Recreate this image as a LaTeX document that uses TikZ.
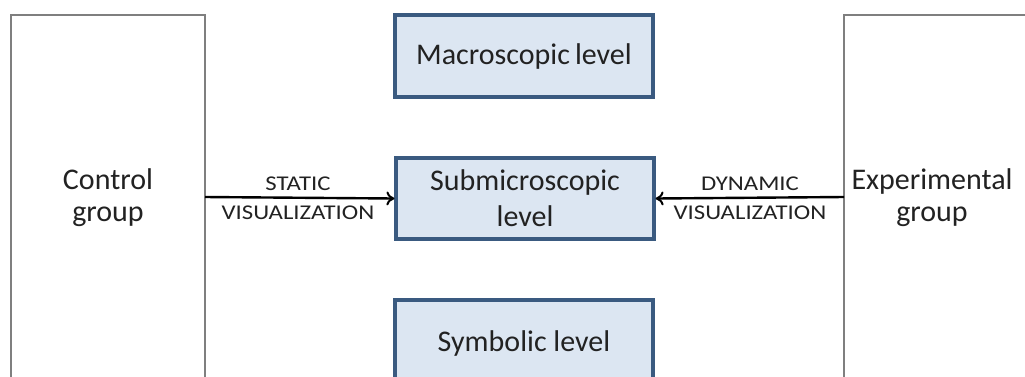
\documentclass[tikz,border=0pt]{standalone}
\usepackage{fontspec}
\setmainfont{Carlito}
\usetikzlibrary{arrows.meta}
\definecolor{boxfill}{HTML}{DCE6F2}
\definecolor{boxline}{HTML}{3A5A80}
\definecolor{grpline}{HTML}{7F7F7F}
\definecolor{txt}{HTML}{222222}
\begin{document}
\begin{tikzpicture}[x=1pt,y=-1pt,
  levelbox/.style={draw=boxline,line width=3.2pt,fill=boxfill,minimum width=258pt,inner sep=0pt,
    font=\fontsize{30}{36}\selectfont,text=txt,align=center},
  grpbox/.style={draw=grpline,line width=1.4pt},
  grptext/.style={font=\fontsize{30}{32}\selectfont,text=txt,align=center},
  lbl/.style={font=\fontsize{21}{29}\selectfont,text=txt,align=center,xscale=1.18},
  conn/.style={line width=2.4pt,-{To[length=8pt,width=14pt,line width=2pt]}}]
\useasboundingbox (0,0) rectangle (1025,376);
\clip (0,0) rectangle (1025,376);
\fill[white] (0,0) rectangle (1025,376);
% group rectangles
\draw[grpbox] (11,400) -- (11,15) -- (205,15) -- (205,400);
\draw[grpbox] (1040,15) -- (844,15) -- (844,400);
\coordinate (cg) at (205,197);
\coordinate (eg) at (844,197);
\node[grptext] (ctl) at (108,198) {Control\\group};
\node[grptext] (exp) at (932,198) {Experimental\\group};
% level boxes
\node[levelbox,minimum height=82pt] (mac) at (524,56) {Macroscopic\,level};
\node[levelbox,minimum height=81pt] (sub) at (525,198.5) {Submicroscopic\\level};
\node[levelbox,minimum height=100pt] (sym) at (524,350) {};
\node[font=\fontsize{30}{36}\selectfont,text=txt] (symt) at (524,343) {Symbolic level};
% connectors
\draw[conn] (cg) -- (sub.west);
\draw[conn] (eg) -- (sub.east);
\node[lbl] (l1) at (298,198) {STATIC\\VISUALIZATION};
\node[lbl] (l2) at (750,198) {DYNAMIC\\VISUALIZATION};
\end{tikzpicture}
\end{document}
